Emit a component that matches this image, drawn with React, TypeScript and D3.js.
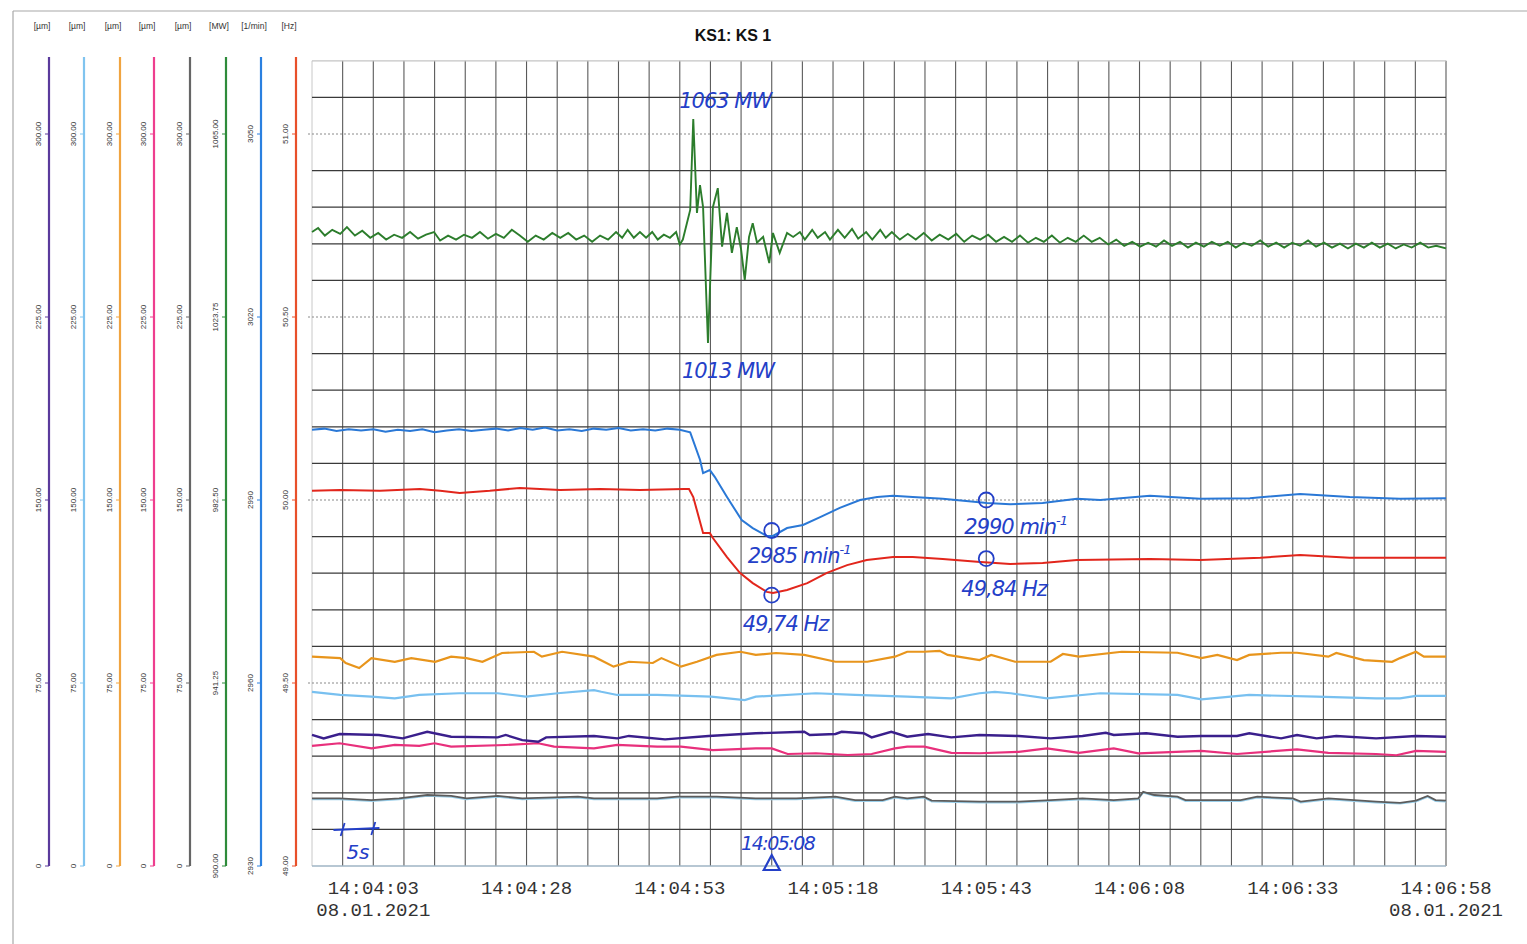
import React from 'react';
import * as d3 from 'd3';

// ---------- time ----------
const START = new Date(2021, 0, 8, 14, 3, 53);
const END = new Date(2021, 0, 8, 14, 6, 58);
const timeLabels = ['14:04:03', '14:04:28', '14:04:53', '14:05:18', '14:05:43', '14:06:08', '14:06:33', '14:06:58'];
const dateLabel = '08.01.2021';
const title = 'KS1: KS 1';

// ---------- axis ticks ----------
const umTicks = [0, 75, 150, 225, 300];
const mwTicks = [900, 941.25, 982.5, 1023.75, 1065];
const rpmTicks = [2930, 2960, 2990, 3020, 3050];
const hzTicks = [49, 49.5, 50, 50.5, 51];

// ---------- series: [seconds after 14:03:53, value] ----------
const purpleData: [number, number][] = [[0,53.7],[1.9,52.3],[4.5,54.1],[10.9,53.7],[14.8,52.3],[18.8,55.0],[22.7,53.0],[30.3,52.7],[31.6,53.7],[34.3,51.6],[36.9,50.9],[38.2,52.7],[46.0,53.3],[49.8,52.3],[51.7,53.3],[57.6,51.9],[64.7,53.3],[72.4,54.4],[80.3,55.0],[81.2,53.7],[85.4,54.1],[86.4,55.0],[90.0,54.4],[91.3,52.7],[94.5,55.0],[97.1,53.0],[100.5,54.1],[104.3,52.7],[108.9,53.7],[115.3,53.3],[120.5,52.3],[125.7,53.3],[129.5,54.6],[130.8,53.7],[136.1,54.4],[141.2,53.0],[145.1,53.3],[150.9,53.3],[152.9,54.4],[158.1,52.3],[160.7,53.7],[163.9,52.3],[167.1,53.3],[173.6,52.3],[180.1,53.3],[185,53.0]];

const pinkData: [number, number][] = [[0,49.2],[4.5,50.3],[9.7,48.2],[13.5,49.6],[17.5,49.2],[20.0,50.3],[22.7,48.9],[31.6,49.6],[36.9,50.3],[39.5,48.9],[46.0,48.2],[49.8,49.6],[56.3,48.9],[60.2,48.9],[65.4,47.5],[72.4,48.2],[75.0,48.2],[77.6,45.9],[82.2,46.2],[87.4,45.5],[91.3,45.9],[95.1,48.2],[97.1,48.9],[99.9,48.9],[104.3,46.4],[108.9,46.2],[115.3,46.8],[119.9,48.2],[125.1,46.4],[130.8,48.2],[134.8,46.2],[145.1,47.2],[150.9,45.9],[160.7,47.8],[165.8,46.4],[173.6,45.9],[176.9,45.4],[180.1,47.2],[185,46.8]];

const orangeData: [number, number][] = [[0,85.8],[4.6,85.2],[5.5,83.2],[7.7,81.1],[9.7,85.2],[13.5,83.7],[16.2,85.2],[20.1,83.7],[22.7,85.8],[25.2,85.2],[27.8,83.7],[31.0,87.3],[36.2,87.8],[37.5,85.8],[40.8,87.8],[46.0,85.8],[49.2,81.7],[51.7,83.7],[55.6,83.2],[57.0,85.2],[60.2,81.7],[62.8,83.7],[66.0,86.5],[69.9,87.8],[72.4,86.5],[75.7,87.3],[80.3,86.5],[85.4,83.7],[90.6,83.7],[95.1,85.8],[97.1,87.8],[99.8,87.8],[102.4,88.2],[103.7,86.5],[108.9,84.4],[110.8,86.5],[114.7,83.7],[120.5,83.7],[122.5,86.9],[125.1,85.8],[132.1,87.8],[141.2,87.4],[145.1,85.2],[147.7,86.5],[150.9,84.4],[152.9,86.5],[158.1,87.4],[160.7,87.4],[165.8,85.8],[167.1,87.3],[171.6,84.4],[176.2,83.7],[177.5,85.2],[180.1,87.8],[181.4,85.8],[185,85.8]];

const lightBlueData: [number, number][] = [[0,71.4],[4.6,70.1],[9.7,69.4],[13.5,68.7],[17.5,70.1],[24.0,70.8],[30.3,70.8],[34.9,69.4],[40.1,70.8],[46.0,72.1],[47.2,71.4],[49.8,70.1],[56.3,70.1],[65.1,69.4],[70.6,68.0],[72.4,69.4],[82.2,70.8],[88.6,70.1],[97.1,69.4],[104.3,68.7],[108.9,70.8],[111.4,71.4],[114.0,70.8],[119.9,68.7],[128.6,70.8],[141.2,70.1],[145.1,68.3],[152.9,70.1],[163.9,69.4],[173.6,68.7],[177.5,68.7],[180.1,69.7],[185,69.7]];

const grayData: [number, number][] = [[0,27.7],[4.5,27.7],[9.7,27.0],[14.2,27.7],[18.8,29.1],[22.7,28.7],[25.2,27.7],[30.3,28.7],[34.3,27.7],[43.4,28.4],[46.0,27.7],[56.3,27.7],[59.6,28.4],[66.0,28.4],[72.4,27.7],[79.0,27.7],[85.4,28.4],[88.6,27.0],[93.1,27.0],[95.1,28.4],[97.1,27.7],[99.8,28.4],[101.1,26.8],[108.9,26.4],[115.3,26.4],[120.5,27.0],[125.7,27.7],[130.8,27.0],[134.8,27.7],[135.6,30.4],[137.4,29.1],[141.2,28.4],[142.5,27.0],[151.5,27.0],[154.2,28.4],[160.0,27.7],[161.3,26.4],[165.8,27.7],[173.6,26.4],[177.5,25.9],[180.1,26.8],[182.0,28.7],[183.3,27.0],[185,26.8]];

const rpmData: [number, number][] = [[0,3001.5],[2,3001.7],[4,3001.3],[6,3001.6],[8,3001.4],[10,3001.6],[12,3001.2],[14,3001.5],[16,3001.3],[18,3001.6],[20,3001.1],[22,3001.4],[24,3001.6],[26,3001.3],[28,3001.5],[30,3001.7],[32,3001.4],[34,3001.8],[36,3001.5],[38,3001.9],[40,3001.4],[42,3001.6],[44,3001.3],[46,3001.7],[48,3001.5],[50,3001.8],[52,3001.4],[54,3001.6],[56,3001.4],[58,3001.7],[60,3001.5],[61.7,3001.1],[63.3,2996.6],[63.8,2994.4],[64.9,2994.9],[65.7,2993.8],[67.7,2990.5],[70.1,2986.7],[71.9,2985.4],[74.2,2984.1],[75.2,2984.1],[77.5,2985.4],[80.1,2985.9],[82.9,2987.2],[86.1,2988.7],[89.4,2990.0],[92.2,2990.5],[94.8,2990.7],[98.0,2990.5],[102.9,2990.2],[110.1,2989.5],[113.9,2989.3],[119.2,2989.5],[124.8,2990.2],[128.6,2990.0],[136.7,2990.7],[144.9,2990.2],[153.0,2990.3],[161.2,2991.0],[169.3,2990.5],[177.5,2990.2],[185,2990.3]];

const hzData: [number, number][] = [[0,50.025],[4.6,50.027],[11.1,50.025],[17.6,50.030],[20.9,50.025],[24.1,50.019],[29.0,50.025],[33.9,50.033],[40.5,50.027],[47.0,50.030],[53.5,50.027],[60.7,50.030],[61.5,50.030],[62.2,50.008],[63.8,49.910],[64.9,49.910],[65.4,49.896],[67.7,49.844],[69.8,49.801],[71.9,49.773],[74.2,49.749],[75.2,49.746],[77.5,49.754],[80.8,49.773],[84.0,49.801],[87.3,49.822],[90.5,49.836],[94.8,49.844],[98.0,49.844],[102.9,49.839],[108.5,49.831],[113.9,49.825],[119.2,49.828],[124.8,49.836],[136.7,49.839],[144.9,49.836],[154.7,49.842],[161.2,49.850],[169.3,49.842],[177.5,49.842],[185,49.842]];

const mwData: [number, number][] = [[0,1042.9],[1.0,1043.8],[2.1,1042.1],[3.3,1043.4],[4.6,1042.5],[5.7,1044.0],[7.0,1042.1],[8.2,1043.2],[9.5,1041.6],[10.8,1042.7],[12.1,1041.2],[13.4,1042.3],[14.7,1041.6],[16.0,1042.9],[17.3,1041.4],[18.6,1042.3],[19.9,1042.9],[20.9,1041.0],[22.2,1042.1],[23.5,1041.2],[24.8,1042.3],[26.1,1041.6],[27.4,1042.9],[28.7,1041.4],[30.0,1042.5],[31.3,1041.6],[32.6,1043.4],[33.9,1042.1],[35.2,1040.7],[36.5,1042.1],[37.8,1041.2],[39.2,1042.7],[40.5,1041.6],[41.8,1042.7],[43.1,1041.2],[44.4,1042.1],[45.7,1040.7],[47.0,1042.1],[48.3,1041.2],[49.6,1042.9],[50.6,1041.6],[51.5,1043.4],[52.5,1041.6],[53.5,1042.9],[54.5,1041.6],[55.5,1042.9],[56.4,1041.2],[57.4,1042.3],[58.4,1041.6],[59.4,1042.9],[60.0,1040.1],[60.5,1041.2],[61.7,1047.9],[62.2,1068.4],[62.8,1047.2],[63.3,1053.5],[63.8,1048.5],[64.6,1017.9],[65.4,1048.5],[66.2,1052.8],[66.9,1039.6],[67.7,1047.2],[68.5,1038.2],[69.3,1044.0],[70.0,1039.0],[70.6,1032.1],[71.3,1041.8],[71.9,1044.9],[72.6,1040.5],[73.6,1041.8],[74.6,1035.9],[75.2,1042.7],[76.3,1038.2],[77.5,1042.7],[78.5,1041.8],[79.6,1042.9],[80.4,1041.2],[81.6,1043.4],[82.5,1041.6],[83.7,1042.9],[84.5,1041.2],[85.8,1043.4],[86.9,1041.6],[88.1,1043.6],[89.1,1041.4],[90.4,1042.9],[91.4,1041.2],[92.7,1043.4],[93.6,1041.6],[94.6,1042.9],[95.9,1041.2],[97.2,1042.5],[98.5,1041.2],[99.8,1042.7],[101.1,1041.0],[102.4,1042.3],[103.8,1041.2],[105.1,1042.5],[106.4,1040.7],[107.7,1042.1],[109.0,1041.2],[110.3,1042.3],[111.6,1040.7],[112.9,1041.8],[114.2,1040.7],[115.5,1042.1],[116.8,1040.5],[118.1,1041.6],[119.4,1040.7],[120.7,1042.1],[122.0,1040.5],[123.3,1041.6],[124.6,1040.7],[125.9,1042.1],[127.2,1040.7],[128.5,1041.6],[129.9,1040.1],[131.2,1041.2],[132.5,1039.8],[133.8,1040.7],[135.1,1039.6],[136.4,1040.5],[137.7,1039.6],[139.0,1041.0],[140.3,1039.8],[141.6,1040.7],[142.9,1039.4],[144.2,1040.5],[145.5,1039.6],[146.8,1040.7],[148.1,1039.8],[149.4,1040.7],[150.7,1039.4],[152.0,1040.5],[153.3,1039.8],[154.7,1041.0],[156.0,1039.6],[157.3,1040.5],[158.6,1039.4],[159.9,1040.5],[161.2,1039.8],[162.5,1041.0],[163.8,1039.6],[165.1,1040.5],[166.4,1039.4],[167.7,1040.3],[169.0,1039.2],[170.3,1040.3],[171.6,1039.4],[172.9,1040.5],[174.2,1039.4],[175.5,1040.3],[176.8,1039.2],[178.1,1040.1],[179.4,1039.4],[180.8,1040.5],[182.1,1039.4],[183.4,1039.8],[185,1039.2]];

// ---------- handwritten annotations ----------
const mwPeak: [number, number] = [62.2, 1068.4];
const mwDip: [number, number] = [64.6, 1017.9];
const rpmMarks: [number, number][] = [[75, 2985], [110, 2990]];
const hzMarks: [number, number][] = [[75, 49.74], [110, 49.84]];
const eventTime = 75; // 14:05:08
const annTexts = { peak: '1063 MW', dip: '1013 MW', rpm1: '2985 min', rpm2: '2990 min', hz1: '49,74 Hz', hz2: '49,84 Hz', event: '14:05:08', scale: '5s' };

const toDate = (s: number) => new Date(START.getTime() + s * 1000);
const fmt2 = (v: number) => (v === 0 ? '0' : v.toFixed(2));
const fmt0 = (v: number) => v.toFixed(0);

export default function App() {
  const W = 1527, H = 944;
  const L = 312, R = 1446, T = 60.8, B = 866;
  const x = d3.scaleTime().domain([START, END]).range([L, R]);
  const yUm = d3.scaleLinear().domain([0, 330]).range([B, T]);
  const yMw = d3.scaleLinear().domain([900, 1081.5]).range([B, T]);
  const yRpm = d3.scaleLinear().domain([2930, 3062]).range([B, T]);
  const yHz = d3.scaleLinear().domain([49, 51.2]).range([B, T]);
  const xs = (s: number) => x(toDate(s));
  const mk = (ys: d3.ScaleLinear<number, number>) =>
    d3.line<[number, number]>().x(d => xs(d[0])).y(d => ys(d[1]));

  const axes = [
    { unit: '[µm]', color: '#5a3a9c', ax: 49, scale: yUm, ticks: umTicks, f: fmt2 },
    { unit: '[µm]', color: '#80c4ef', ax: 84, scale: yUm, ticks: umTicks, f: fmt2 },
    { unit: '[µm]', color: '#f0a440', ax: 120, scale: yUm, ticks: umTicks, f: fmt2 },
    { unit: '[µm]', color: '#ee3e8e', ax: 154, scale: yUm, ticks: umTicks, f: fmt2 },
    { unit: '[µm]', color: '#666666', ax: 190, scale: yUm, ticks: umTicks, f: fmt2 },
    { unit: '[MW]', color: '#2e8b3a', ax: 226, scale: yMw, ticks: mwTicks, f: fmt2 },
    { unit: '[1/min]', color: '#2a80e0', ax: 261, scale: yRpm, ticks: rpmTicks, f: fmt0 },
    { unit: '[Hz]', color: '#e8502a', ax: 296, scale: yHz, ticks: hzTicks, f: fmt2 },
  ];

  const hLines = d3.range(0, 23).map(k => ({ y: yHz(49 + k * 0.1), k }));
  const vLines = d3.range(0, 38).map(i => ({ x: xs(i * 5), i }));
  const labelOffsets = d3.range(0, 8).map(j => 10 + 25 * j);

  const hand = '#2440c8';
  const handFont: React.CSSProperties = { fontFamily: '"DejaVu Sans", sans-serif', fontStyle: 'italic' };

  const evX = xs(eventTime);

  return (
    <svg width={W} height={H} style={{ position: 'absolute', left: 0, top: 0, background: '#fff' }}>
      <rect x={0} y={0} width={W} height={H} fill="#fff" />
      {/* page border from scan */}
      <line x1={13} y1={11} x2={W} y2={11} stroke="#a8a8a8" strokeWidth={1.2} />
      <line x1={13} y1={11} x2={13} y2={H} stroke="#a8a8a8" strokeWidth={1.2} />

      {/* title */}
      <text x={733} y={41} textAnchor="middle" fontFamily='"Liberation Sans", Arial, sans-serif' fontWeight="bold" fontSize={16} fill="#111">{title}</text>

      {/* left axes */}
      {axes.map((a, i) => (
        <g key={i}>
          <text x={a.ax - 7} y={29} textAnchor="middle" fontFamily='"Liberation Sans", Arial, sans-serif' fontSize={8.5} fill="#333">{a.unit}</text>
          <line x1={a.ax} y1={57} x2={a.ax} y2={B} stroke={a.color} strokeWidth={2.2} />
          {a.ticks.map(t => (
            <g key={t}>
              <line x1={a.ax - 4} y1={a.scale(t)} x2={a.ax} y2={a.scale(t)} stroke={a.color} strokeWidth={1} />
              <text transform={`translate(${a.ax - 11},${a.scale(t)}) rotate(-90)`} textAnchor="middle" dominantBaseline="central"
                fontFamily='"Liberation Sans", Arial, sans-serif' fontSize={8} fill="#333">{a.f(t)}</text>
            </g>
          ))}
        </g>
      ))}

      {/* grid */}
      {vLines.map(v => (
        <line key={'v' + v.i} x1={v.x} y1={T} x2={v.x} y2={B}
          stroke={v.i === 0 ? '#c8c8c8' : '#5a5a5a'} strokeWidth={v.i === 0 ? 1 : 1.1} />
      ))}
      {hLines.map(h => {
        const dotted = h.k % 5 === 0 && h.k > 0 && h.k < 22;
        const stroke = h.k === 0 ? '#9fb4c4' : h.k === 22 ? '#c4c4c4' : dotted ? '#8a8a8a' : '#3a3a3a';
        return (
          <line key={'h' + h.k} x1={dotted ? L - 4 : L} y1={h.y} x2={R} y2={h.y}
            stroke={stroke} strokeWidth={dotted ? 1 : h.k === 0 ? 1.5 : 1.2} strokeDasharray={dotted ? '2,2' : undefined} />
        );
      })}

      {/* series */}
      <path d={mk(yUm)(grayData) || ''} fill="none" stroke="#9acfea" strokeWidth={1.4} transform="translate(0,1.1)" />
      <path d={mk(yUm)(grayData) || ''} fill="none" stroke="#5c5c5c" strokeWidth={1.8} />
      <path d={mk(yUm)(pinkData) || ''} fill="none" stroke="#e8307c" strokeWidth={2.2} />
      <path d={mk(yUm)(purpleData) || ''} fill="none" stroke="#3a1f8c" strokeWidth={2.4} />
      <path d={mk(yUm)(lightBlueData) || ''} fill="none" stroke="#78c0f0" strokeWidth={2.2} />
      <path d={mk(yUm)(orangeData) || ''} fill="none" stroke="#e8951c" strokeWidth={2.2} />
      <path d={mk(yHz)(hzData) || ''} fill="none" stroke="#e2261c" strokeWidth={2} />
      <path d={mk(yRpm)(rpmData) || ''} fill="none" stroke="#2a78d6" strokeWidth={2} />
      <path d={mk(yMw)(mwData) || ''} fill="none" stroke="#2c7d2c" strokeWidth={1.9} />

      {/* time labels */}
      {labelOffsets.map((s, j) => (
        <g key={'tl' + j} fontFamily='"Liberation Mono", "DejaVu Sans Mono", monospace' fontSize={19} fill="#333">
          <text x={xs(s)} y={894} textAnchor="middle">{timeLabels[j]}</text>
          {(j === 0 || j === labelOffsets.length - 1) && (
            <text x={xs(s)} y={916} textAnchor="middle">{dateLabel}</text>
          )}
        </g>
      ))}

      {/* handwritten annotations */}
      <g fill={hand} style={handFont} fontSize={21}>
        <text x={xs(mwPeak[0]) + 32} y={yMw(mwPeak[1]) - 11} textAnchor="middle" letterSpacing={-1}>{annTexts.peak}</text>
        <text x={xs(mwDip[0]) + 20} y={yMw(mwDip[1]) + 35} textAnchor="middle" letterSpacing={-1}>{annTexts.dip}</text>
        <text x={xs(rpmMarks[0][0]) - 24} y={yRpm(rpmMarks[0][1]) + 32} letterSpacing={-1}>{annTexts.rpm1}<tspan dy={-9} fontSize={13}>-1</tspan></text>
        <text x={xs(rpmMarks[1][0]) - 22} y={yRpm(rpmMarks[1][1]) + 34} letterSpacing={-1}>{annTexts.rpm2}<tspan dy={-9} fontSize={13}>-1</tspan></text>
        <text x={xs(hzMarks[0][0]) - 29} y={yHz(hzMarks[0][1]) + 36} letterSpacing={-1}>{annTexts.hz1}</text>
        <text x={xs(hzMarks[1][0]) - 25} y={yHz(hzMarks[1][1]) + 37} letterSpacing={-1}>{annTexts.hz2}</text>
        <text x={evX + 6} y={850} textAnchor="middle" fontSize={19} letterSpacing={-1.5}>{annTexts.event}</text>
        <text x={(xs(5) + xs(10)) / 2} y={859} textAnchor="middle" fontSize={20}>{annTexts.scale}</text>
      </g>
      <g fill="none" stroke={hand} strokeWidth={1.8}>
        {rpmMarks.map((m, i) => <circle key={'rc' + i} cx={xs(m[0])} cy={yRpm(m[1])} r={7.5} />)}
        {hzMarks.map((m, i) => <circle key={'hc' + i} cx={xs(m[0])} cy={yHz(m[1])} r={7.5} />)}
        <path d={`M${evX},${855} L${evX - 8},${870} L${evX + 8},${870} Z`} strokeWidth={2.2} />
        <line x1={xs(3.5)} y1={830} x2={xs(11)} y2={828} />
        <line x1={xs(5) + 2} y1={823} x2={xs(5) - 2} y2={836} />
        <line x1={xs(10) + 2} y1={822} x2={xs(10) - 2} y2={835} />
      </g>
    </svg>
  );
}
